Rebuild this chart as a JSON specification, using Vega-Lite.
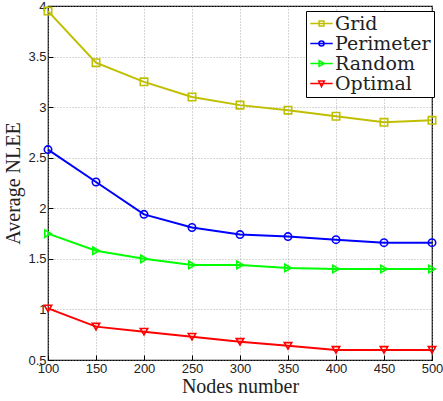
{
  "$schema": "https://vega.github.io/schema/vega-lite/v6.json",
  "width": 384,
  "height": 354,
  "autosize": {"type": "none"},
  "padding": {"left": 48, "top": 6, "right": 11, "bottom": 41},
  "background": "white",
  "config": {
    "view": {"stroke": "black", "strokeWidth": 1.2},
    "axis": {
      "domain": false,
      "grid": true,
      "gridColor": "#999",
      "gridDash": [1, 2],
      "gridWidth": 0.8,
      "tickColor": "black",
      "tickSize": -5,
      "labelFont": "Liberation Sans",
      "labelFontSize": 13,
      "labelColor": "#222",
      "labelOverlap": false,
      "labelFlush": false,
      "labelPadding": 7,
      "titleFont": "Liberation Serif",
      "titleFontSize": 20,
      "titleFontWeight": "normal",
      "titleColor": "#222"
    }
  },
  "data": {
    "values": [
      {"n": 100, "method": "Grid", "v": 3.95},
      {"n": 150, "method": "Grid", "v": 3.44},
      {"n": 200, "method": "Grid", "v": 3.25},
      {"n": 250, "method": "Grid", "v": 3.10},
      {"n": 300, "method": "Grid", "v": 3.02},
      {"n": 350, "method": "Grid", "v": 2.97},
      {"n": 400, "method": "Grid", "v": 2.91},
      {"n": 450, "method": "Grid", "v": 2.85},
      {"n": 500, "method": "Grid", "v": 2.87},
      {"n": 100, "method": "Perimeter", "v": 2.58},
      {"n": 150, "method": "Perimeter", "v": 2.26},
      {"n": 200, "method": "Perimeter", "v": 1.94},
      {"n": 250, "method": "Perimeter", "v": 1.81},
      {"n": 300, "method": "Perimeter", "v": 1.74},
      {"n": 350, "method": "Perimeter", "v": 1.72},
      {"n": 400, "method": "Perimeter", "v": 1.69},
      {"n": 450, "method": "Perimeter", "v": 1.66},
      {"n": 500, "method": "Perimeter", "v": 1.66},
      {"n": 100, "method": "Random", "v": 1.75},
      {"n": 150, "method": "Random", "v": 1.58},
      {"n": 200, "method": "Random", "v": 1.50},
      {"n": 250, "method": "Random", "v": 1.44},
      {"n": 300, "method": "Random", "v": 1.44},
      {"n": 350, "method": "Random", "v": 1.41},
      {"n": 400, "method": "Random", "v": 1.40},
      {"n": 450, "method": "Random", "v": 1.40},
      {"n": 500, "method": "Random", "v": 1.40},
      {"n": 100, "method": "Optimal", "v": 1.01},
      {"n": 150, "method": "Optimal", "v": 0.83},
      {"n": 200, "method": "Optimal", "v": 0.78},
      {"n": 250, "method": "Optimal", "v": 0.73},
      {"n": 300, "method": "Optimal", "v": 0.68},
      {"n": 350, "method": "Optimal", "v": 0.64},
      {"n": 400, "method": "Optimal", "v": 0.60},
      {"n": 450, "method": "Optimal", "v": 0.60},
      {"n": 500, "method": "Optimal", "v": 0.60}
    ]
  },
  "encoding": {
    "x": {
      "field": "n",
      "type": "quantitative",
      "scale": {"domain": [100, 500], "nice": false, "zero": false},
      "axis": {"values": [100, 150, 200, 250, 300, 350, 400, 450, 500], "title": "Nodes number", "titlePadding": 1}
    },
    "y": {
      "field": "v",
      "type": "quantitative",
      "scale": {"domain": [0.5, 4], "nice": false, "zero": false},
      "axis": {"values": [0.5, 1, 1.5, 2, 2.5, 3, 3.5, 4], "format": "~g", "title": "Average NLEE", "titlePadding": 4}
    }
  },
  "layer": [
    {
      "mark": {"type": "line", "strokeWidth": 2},
      "encoding": {
        "color": {
          "field": "method",
          "type": "nominal",
          "scale": {
            "domain": ["Grid", "Perimeter", "Random", "Optimal"],
            "range": ["#bfbf00", "#0000ff", "#00ff00", "#ff0000"]
          },
          "legend": {
            "title": null,
            "orient": "none",
            "legendX": 258,
            "legendY": 5,
            "strokeColor": "black",
            "fillColor": "white",
            "padding": 3,
            "labelFont": "DejaVu Serif",
            "labelFontSize": 19,
            "labelColor": "#222",
            "labelOffset": 4,
            "symbolSize": 256,
            "symbolStrokeWidth": 1.5,
            "symbolFillColor": "transparent",
            "symbolOffset": 3,
            "rowPadding": -10,
            "encode": {
              "symbols": {
                "update": {
                  "shape": {"signal": "datum.value === 'Grid' ? 'M-1.4,0H1.4M-0.3,-0.3H0.3V0.3H-0.3Z' : datum.value === 'Perimeter' ? 'M-1.4,0H1.4M0.32,0A0.32,0.32 0 1,1 -0.32,0A0.32,0.32 0 1,1 0.32,0' : datum.value === 'Random' ? 'M-1.4,0H1.4M-0.3,-0.35L0.38,0L-0.3,0.35Z' : 'M-1.4,0H1.4M-0.35,-0.3H0.35L0,0.38Z'"},
                  "fill": {"value": "transparent"},
                  "fillOpacity": {"value": 0},
                  "strokeWidth": {"value": 1.5}
                }
              }
            }
          }
        }
      }
    },
    {
      "transform": [{"filter": "datum.method === 'Grid'"}],
      "mark": {"type": "point", "shape": "square", "filled": false, "color": "#bfbf00", "strokeWidth": 1.6, "size": 55, "opacity": 1}
    },
    {
      "transform": [{"filter": "datum.method === 'Perimeter'"}],
      "mark": {"type": "point", "shape": "circle", "filled": false, "color": "#0000ff", "strokeWidth": 1.6, "size": 55, "opacity": 1}
    },
    {
      "transform": [{"filter": "datum.method === 'Random'"}],
      "mark": {"type": "point", "shape": "triangle-right", "filled": false, "color": "#00ff00", "strokeWidth": 1.6, "size": 55, "opacity": 1}
    },
    {
      "transform": [{"filter": "datum.method === 'Optimal'"}],
      "mark": {"type": "point", "shape": "triangle-down", "filled": false, "color": "#ff0000", "strokeWidth": 1.6, "size": 55, "opacity": 1}
    }
  ]
}
